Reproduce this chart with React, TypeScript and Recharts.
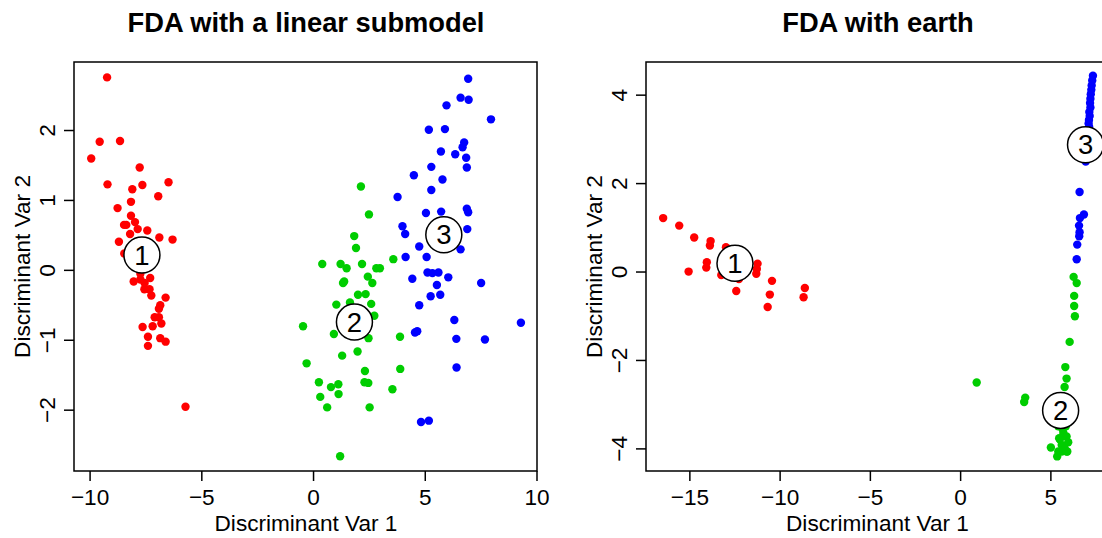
import React from 'react';
import { ScatterChart, Scatter, XAxis, YAxis, ReferenceArea } from 'recharts';

const FONT = '"Liberation Sans", Arial, Helvetica, sans-serif';

// ---------- Data: FDA with a linear submodel ----------
const linearClass1 = [
  [-9.24, 2.76], [-9.57, 1.84], [-8.66, 1.85], [-9.95, 1.6], [-7.78, 1.47], [-9.22, 1.23], [-8.11, 1.16],
  [-7.66, 1.22], [-6.49, 1.26], [-6.95, 1.06], [-8.17, 0.98], [-8.77, 0.89], [-8.17, 0.78], [-7.99, 0.69],
  [-8.48, 0.65], [-8.38, 0.65], [-7.87, 0.59], [-7.44, 0.57], [-8.21, 0.52], [-6.9, 0.47], [-6.31, 0.44],
  [-8.71, 0.41], [-8.47, 0.24], [-7.31, -0.11], [-8.05, -0.16], [-7.75, -0.13], [-7.56, -0.18], [-7.57, -0.27],
  [-7.34, -0.27], [-7.26, -0.36], [-6.62, -0.39], [-6.86, -0.5], [-6.92, -0.55], [-7.11, -0.67], [-6.92, -0.67],
  [-6.81, -0.76], [-7.2, -0.8], [-7.65, -0.81], [-7.41, -0.95], [-6.86, -0.97], [-6.62, -1.02], [-7.41, -1.08],
  [-5.73, -1.95], [-7.75, -0.05], [-7.5, 0.3], [-7.9, 0.1], [-7.2, 0.15],
];
const linearClass2 = [
  [2.12, 1.2], [2.48, 0.8], [1.82, 0.49], [1.9, 0.32], [0.39, 0.09], [1.21, 0.09], [1.48, 0.03], [2.17, 0.09],
  [2.81, 0.03], [2.97, 0.03], [3.57, 0.16], [2.43, -0.09], [2.63, -0.18], [1.37, -0.16], [1.32, -0.18],
  [1.99, -0.35], [2.33, -0.34], [1.02, -0.49], [1.63, -0.46], [2.58, -0.48], [2.72, -0.65], [-0.47, -0.8],
  [0.91, -0.91], [2.46, -0.97], [3.87, -0.95], [1.97, -1.16], [1.28, -1.22], [-0.31, -1.33], [2.3, -1.44],
  [3.88, -1.41], [0.24, -1.6], [2.28, -1.6], [2.45, -1.61], [1.11, -1.63], [0.78, -1.67], [1.12, -1.77],
  [0.3, -1.81], [3.53, -1.7], [0.61, -1.96], [2.51, -1.96], [1.19, -2.66], [1.6, -0.6], [2.0, -0.8], [2.2, -0.7],
];
const linearClass3 = [
  [6.92, 2.74], [6.58, 2.47], [6.94, 2.44], [5.95, 2.36], [7.94, 2.16], [5.16, 2.01], [5.88, 2.02], [6.74, 1.83],
  [6.67, 1.76], [5.7, 1.7], [6.34, 1.66], [6.83, 1.61], [6.86, 1.47], [5.27, 1.48], [4.49, 1.36], [5.77, 1.3],
  [5.27, 1.15], [3.76, 1.05], [5.03, 0.82], [5.71, 0.84], [6.86, 0.88], [6.92, 0.83], [3.98, 0.63], [4.1, 0.52],
  [6.88, 0.59], [4.73, 0.34], [6.58, 0.3], [4.12, 0.19], [5.06, 0.19], [5.1, -0.03], [5.32, -0.04], [5.59, -0.03],
  [6.03, -0.1], [4.42, -0.12], [7.5, -0.18], [5.52, -0.21], [5.24, -0.37], [5.67, -0.35], [4.73, -0.5],
  [6.3, -0.71], [9.28, -0.75], [4.54, -0.89], [4.64, -0.87], [6.39, -0.98], [7.67, -0.99], [6.4, -1.39],
  [4.81, -2.17], [5.16, -2.15], [5.6, 0.45], [6.1, 0.55],
];
const linearLabels = [
  [-7.68, 0.22, '1'], [1.83, -0.74, '2'], [5.83, 0.51, '3'],
];

// ---------- Data: FDA with earth ----------
const earthClass1 = [
  [-16.48, 1.22], [-15.59, 1.05], [-14.76, 0.78], [-13.85, 0.7], [-13.89, 0.6], [-13.0, 0.56], [-15.07, 0.01],
  [-14.06, 0.22], [-14.09, 0.1], [-13.26, -0.07], [-12.28, -0.16], [-12.43, -0.43], [-11.25, 0.19],
  [-11.29, 0.07], [-11.32, -0.04], [-10.45, -0.2], [-10.57, -0.51], [-10.69, -0.79], [-8.63, -0.36],
  [-8.7, -0.57], [-12.8, 0.35], [-12.0, 0.05], [-13.1, 0.0], [-11.8, 0.3], [-12.6, -0.05],
];
const earthClass2 = [
  [6.26, -0.11], [6.43, -0.25], [6.29, -0.54], [6.29, -0.77], [6.33, -1.0], [6.04, -1.58], [5.8, -2.15],
  [5.87, -2.41], [5.76, -2.6], [0.89, -2.5], [3.58, -2.84], [3.52, -2.94], [5.72, -3.42], [5.83, -3.49],
  [5.41, -3.49], [5.69, -3.64], [5.87, -3.72], [5.5, -3.78], [5.96, -3.85], [5.6, -3.91], [5.0, -3.97],
  [5.91, -4.06], [5.35, -4.17], [5.6, -4.06], [5.76, -3.99], [5.46, -3.76], [5.41, -4.06], [5.87, -4.06],
  [5.65, -3.55], [5.75, -3.3],
];
const earthClass3 = [
  [7.33, 4.44], [7.29, 4.33], [7.26, 4.22], [7.24, 4.12], [7.21, 4.02], [7.19, 3.92], [7.17, 3.82], [7.19, 3.72],
  [7.13, 3.62], [7.15, 3.53], [7.11, 3.44], [7.09, 3.36], [7.12, 3.28], [7.07, 3.2], [7.05, 3.12], [7.08, 3.04],
  [7.03, 2.96], [7.01, 2.88], [7.02, 2.8], [6.99, 2.72], [6.97, 2.64], [6.95, 2.56], [6.93, 2.5], [6.59, 1.81],
  [6.83, 1.3], [6.61, 1.22], [6.56, 1.05], [6.59, 0.9], [6.57, 0.81], [6.46, 0.62], [6.43, 0.29],
];
const earthLabels = [
  [-12.5, 0.2, '1'], [5.54, -3.13, '2'], [6.92, 2.88, '3'],
];

// ---------- Axis settings ----------
const linearXTicks = [-10, -5, 0, 5, 10];
const linearYTicks = [-2, -1, 0, 1, 2];
const linearXDomain = [-10.72, 10.0];
const linearYDomain = [-2.87, 2.98];
const earthXTicks = [-15, -10, -5, 0, 5];
const earthYTicks = [-4, -2, 0, 2, 4];
const earthXDomain = [-17.43, 8.22];
const earthYDomain = [-4.5, 4.75];

const classColors = ['#FF0000', '#00CD00', '#0000FF'];

const toPts = (arr: any[]) => arr.map((p) => ({ x: p[0], y: p[1] }));
const toLabels = (arr: any[]) => arr.map((p) => ({ x: p[0], y: p[1], label: p[2] }));

const fmt = (v: number) => (v < 0 ? '\u2212' + Math.abs(v) : String(v));

const TICK_FS = 22.6;
const TITLE_FS = 27.3;

const dotShape = (color: string) => (p: any) => (
  <circle cx={p.cx} cy={p.cy} r={4.2} fill={color} />
);

const labelShape = (p: any) => (
  <g>
    <circle cx={p.cx} cy={p.cy} r={18} fill="#fff" stroke="#000" strokeWidth={1.5} />
    <text x={p.cx} y={p.cy + 9.8} textAnchor="middle" fontSize={27.5} fontFamily={FONT} fill="#000">
      {p.payload.label}
    </text>
  </g>
);

const W = 560;
const H = 538;
const TOP = 62;
const BOTTOM = 471;

function Panel(props: any) {
  const { left, yAxisWidth, rightMargin, xDomain, yDomain, xTicks, yTicks, c1, c2, c3, labels, boxLeft } = props;
  const xTick = (p: any) => (
    <text x={p.x} y={505} textAnchor="middle" fontSize={TICK_FS} fontFamily={FONT} fill="#000">
      {fmt(p.payload.value)}
    </text>
  );
  const yTick = (p: any) => {
    const tx = boxLeft - 19;
    return (
      <text x={tx} y={p.y} transform={`rotate(-90, ${tx}, ${p.y})`} textAnchor="middle" fontSize={TICK_FS} fontFamily={FONT} fill="#000">
        {fmt(p.payload.value)}
      </text>
    );
  };
  return (
    <div style={{ position: 'absolute', left, top: 0, width: W, height: H }}>
      <ScatterChart width={W} height={H} margin={{ top: TOP, right: rightMargin, bottom: 0, left: 0 }}>
        <XAxis
          dataKey="x"
          type="number"
          domain={xDomain}
          ticks={xTicks}
          interval={0}
          allowDataOverflow
          height={H - BOTTOM}
          axisLine={false}
          tickSize={10}
          tickLine={{ stroke: '#000', strokeWidth: 1.5 }}
          tick={xTick}
        />
        <YAxis
          dataKey="y"
          type="number"
          domain={yDomain}
          ticks={yTicks}
          interval={0}
          allowDataOverflow
          width={yAxisWidth}
          axisLine={false}
          tickSize={10}
          tickLine={{ stroke: '#000', strokeWidth: 1.5 }}
          tick={yTick}
        />
        <ReferenceArea
          x1={xDomain[0]}
          x2={xDomain[1]}
          y1={yDomain[0]}
          y2={yDomain[1]}
          fill="none"
          fillOpacity={0}
          stroke="#000"
          strokeWidth={1.5}
          ifOverflow="visible"
        />
        <Scatter data={toPts(c1)} shape={dotShape(classColors[0])} isAnimationActive={false} />
        <Scatter data={toPts(c2)} shape={dotShape(classColors[1])} isAnimationActive={false} />
        <Scatter data={toPts(c3)} shape={dotShape(classColors[2])} isAnimationActive={false} />
        <Scatter data={toLabels(labels)} shape={labelShape} isAnimationActive={false} />
      </ScatterChart>
    </div>
  );
}

export default function App() {
  return (
    <div style={{ position: 'fixed', left: 0, top: 0, width: 1102, height: 538, overflow: 'hidden', background: '#fff' }}>
      <Panel
        left={0}
        yAxisWidth={74}
        rightMargin={W - 537}
        boxLeft={74}
        xDomain={linearXDomain}
        yDomain={linearYDomain}
        xTicks={linearXTicks}
        yTicks={linearYTicks}
        c1={linearClass1}
        c2={linearClass2}
        c3={linearClass3}
        labels={linearLabels}
      />
      <Panel
        left={560}
        yAxisWidth={86}
        rightMargin={W - 86 - 463}
        boxLeft={86}
        xDomain={earthXDomain}
        yDomain={earthYDomain}
        xTicks={earthXTicks}
        yTicks={earthYTicks}
        c1={earthClass1}
        c2={earthClass2}
        c3={earthClass3}
        labels={earthLabels}
      />
      <svg width={1102} height={538} style={{ position: 'absolute', left: 0, top: 0, pointerEvents: 'none' }}>
        <g fontFamily={FONT} fill="#000">
          <text x={306} y={31.5} textAnchor="middle" fontSize={TITLE_FS} fontWeight="bold">FDA with a linear submodel</text>
          <text x={878} y={31.5} textAnchor="middle" fontSize={TITLE_FS} fontWeight="bold">FDA with earth</text>
          <text x={306} y={531} textAnchor="middle" fontSize={TICK_FS}>Discriminant Var 1</text>
          <text x={877.5} y={531} textAnchor="middle" fontSize={TICK_FS}>Discriminant Var 1</text>
          <text x={30} y={266.5} textAnchor="middle" fontSize={TICK_FS} transform="rotate(-90, 30, 266.5)">Discriminant Var 2</text>
          <text x={602} y={266.5} textAnchor="middle" fontSize={TICK_FS} transform="rotate(-90, 602, 266.5)">Discriminant Var 2</text>
        </g>
      </svg>
    </div>
  );
}
